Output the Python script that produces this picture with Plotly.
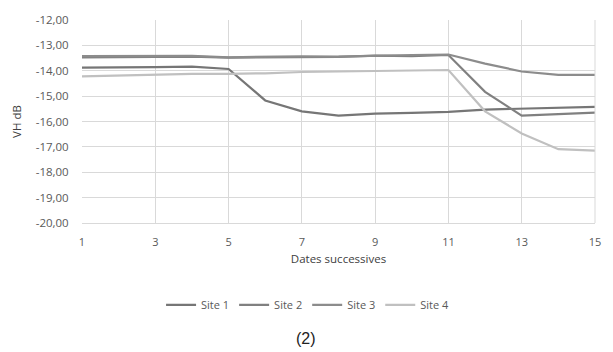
import plotly.graph_objects as go

dates = list(range(1, 16))
site1 = [-13.88, -13.88, -13.86, -13.84, -13.93, -15.17, -15.60, -15.77, -15.69, -15.66, -15.62, -15.53, -15.49, -15.47, -15.42]
site2 = [-13.47, -13.46, -13.45, -13.44, -13.48, -13.47, -13.45, -13.45, -13.40, -13.42, -13.38, -14.83, -15.77, -15.71, -15.65]
site3 = [-13.42, -13.41, -13.40, -13.41, -13.47, -13.45, -13.43, -13.44, -13.40, -13.38, -13.36, -13.72, -14.03, -14.16, -14.16]
site4 = [-14.22, -14.18, -14.15, -14.12, -14.12, -14.10, -14.05, -14.03, -14.00, -13.98, -13.97, -15.60, -16.47, -17.09, -17.15]
names = ["Site 1", "Site 2", "Site 3", "Site 4"]
colors = ["#767676", "#808080", "#8c8c8c", "#c0c0c0"]
y_ticks = [-12, -13, -14, -15, -16, -17, -18, -19, -20]
y_labels = ["-12,00", "-13,00", "-14,00", "-15,00", "-16,00", "-17,00", "-18,00", "-19,00", "-20,00"]
x_ticks = [1, 3, 5, 7, 9, 11, 13, 15]

fig = go.Figure()
for n, s, c in zip(names, [site1, site2, site3, site4], colors):
    fig.add_trace(go.Scatter(x=dates, y=s, mode="lines", name=n,
                             line=dict(color=c, width=2.2)))

font = dict(family="Open Sans, Liberation Sans, sans-serif", size=11, color="#595959")
plot_w = 613 - 82 - 17
plot_h = 352 - 17 - 129
fig.update_layout(
    width=613, height=352,
    margin=dict(l=82, r=17, t=17, b=129),
    paper_bgcolor="white", plot_bgcolor="white",
    font=font,
    showlegend=True,
    legend=dict(orientation="h", x=(308 - 82) / plot_w, xanchor="center",
                y=(223 - 306) / plot_h, yanchor="middle",
                font=dict(size=11, color="#595959"), itemwidth=30, tracegroupgap=0),
    xaxis=dict(range=[1, 15], tickmode="array", tickvals=x_ticks,
               showgrid=True, gridcolor="#d9d9d9", gridwidth=1,
               zeroline=False, showline=True, linecolor="#d9d9d9",
               ticks="outside", ticklen=9, tickcolor="rgba(0,0,0,0)",
               title=dict(text="Dates successives", standoff=6,
                          font=dict(size=11.5, color="#404040"))),
    yaxis=dict(range=[-20, -12], tickmode="array", tickvals=y_ticks, ticktext=y_labels,
               showgrid=True, gridcolor="#d9d9d9", gridwidth=1,
               zeroline=False, showline=False,
               ticks="outside", ticklen=10, tickcolor="rgba(0,0,0,0)",
               tickfont=dict(size=11.5),
               title=dict(text="VH dB", standoff=11, font=dict(size=11.5, color="#404040"))),
    annotations=[dict(text="(2)", x=(306 - 82) / plot_w, xref="paper",
                      y=(223 - 340) / plot_h, yref="paper",
                      yanchor="middle", showarrow=False,
                      font=dict(family="Liberation Sans, Arial, sans-serif",
                                size=16, color="#222222"))],
)
fig.add_shape(type="line", xref="paper", yref="paper", x0=1, x1=1, y0=0, y1=1,
              line=dict(color="#d9d9d9", width=1))
fig.write_html("out.html")
